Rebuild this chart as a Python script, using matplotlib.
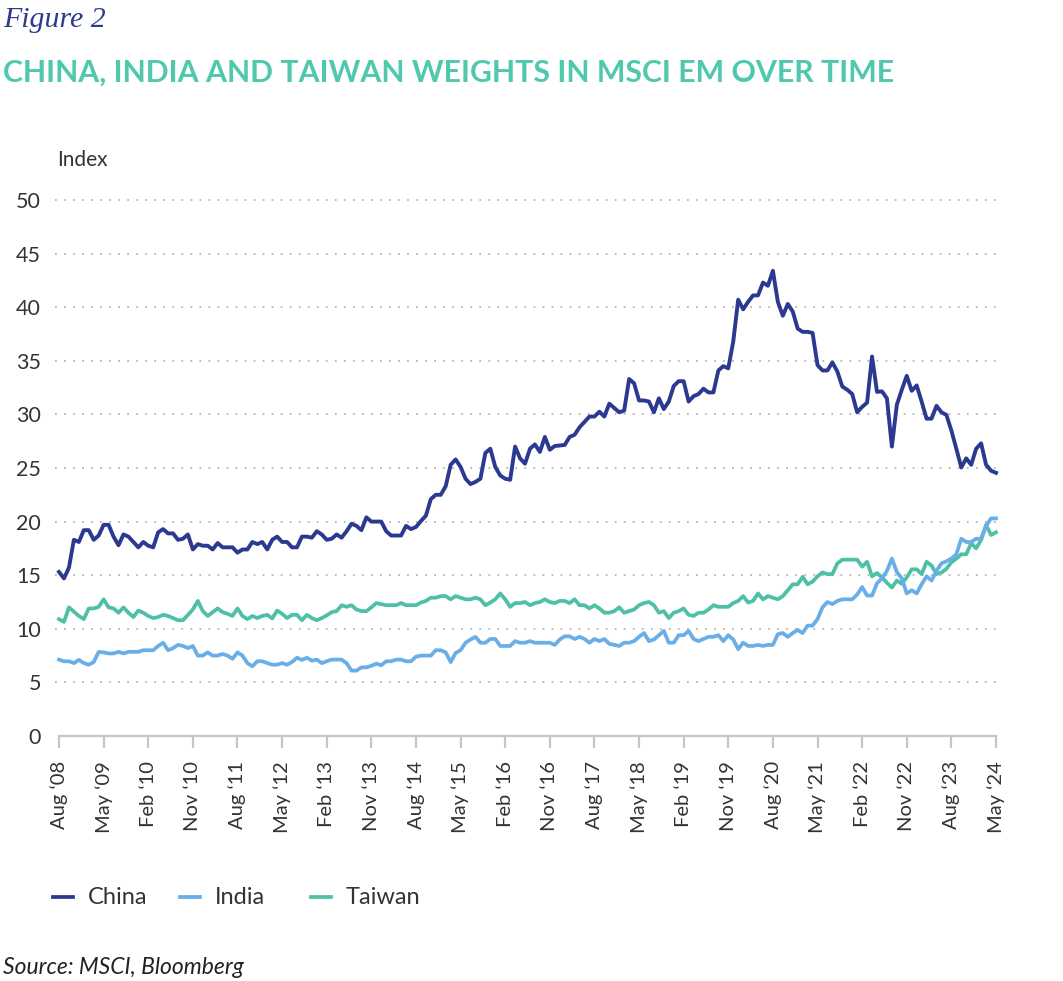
import matplotlib
matplotlib.use("Agg")
import matplotlib.pyplot as plt
from matplotlib.lines import Line2D

# ---------------- data (monthly, Aug 2008 - May 2024) ----------------
china = [15.3, 14.7, 15.7, 18.3, 18.1, 19.2, 19.2, 18.3, 18.7, 19.7,
         19.7, 18.6, 17.8, 18.8, 18.6, 18.1, 17.6, 18.1, 17.75, 17.6,
         19.0, 19.3, 18.9, 18.9, 18.3, 18.4, 18.8, 17.4, 17.9, 17.75,
         17.75, 17.4, 18.0, 17.6, 17.6, 17.6, 17.1, 17.4, 17.4, 18.1,
         17.9, 18.1, 17.4, 18.3, 18.6, 18.1, 18.1, 17.6, 17.6, 18.6,
         18.6, 18.5,
         19.1, 18.8, 18.3, 18.4, 18.8, 18.5, 19.1, 19.8, 19.6, 19.2,
         20.4, 20.0, 20.0, 20.0, 19.1, 18.7, 18.7, 18.7, 19.6, 19.3,
         19.5, 20.05, 20.55, 22.1, 22.5, 22.5, 23.3, 25.3, 25.8, 25.1,
         24.0, 23.5, 23.7, 24.0, 26.4, 26.8, 25.1, 24.3, 24.0, 23.9,
         27.0, 25.9, 25.4, 26.8, 27.2, 26.5, 27.9, 26.7, 27.05, 27.1,
         27.15, 27.9, 28.1, 28.8, 29.3, 29.8, 29.8, 30.25, 29.8, 31.0,
         30.6, 30.2, 30.35, 33.3, 32.9, 31.3, 31.3, 31.2, 30.2, 31.5,
         30.5, 31.2, 32.65, 33.1, 33.1, 31.2, 31.7, 31.9, 32.4, 32.05,
         32.05, 34.1, 34.5, 34.3, 36.8, 40.7, 39.8, 40.5, 41.1, 41.1,
         42.3, 42.0, 43.4, 40.5, 39.2, 40.3, 39.6, 38.0, 37.7, 37.7,
         37.6, 34.6, 34.1, 34.1, 34.85, 34.0, 32.6, 32.3, 31.9, 30.2,
         30.7, 31.1, 35.4, 32.1, 32.15, 31.5, 27.0, 30.9, 32.3, 33.6,
         32.2, 32.7, 31.2, 29.6, 29.6, 30.8, 30.2, 29.95, 28.5, 26.8,
         25.05, 25.9, 25.3, 26.8, 27.3, 25.3, 24.75, 24.55]

india = [7.125, 6.97, 6.97, 6.8, 7.1, 6.8, 6.65, 6.9, 7.85, 7.8,
         7.7, 7.7, 7.85, 7.7, 7.85, 7.85, 7.85, 8.0, 8.0, 8.0,
         8.4, 8.7, 8.0, 8.2, 8.5, 8.4, 8.2, 8.4, 7.5, 7.5,
         7.8, 7.5, 7.5, 7.65, 7.5, 7.2, 7.8, 7.5, 6.8, 6.5,
         6.97, 6.97, 6.8, 6.65, 6.65, 6.8, 6.65, 6.9, 7.3, 7.1,
         7.3, 7.03,
         7.125, 6.8, 6.97, 7.125, 7.125, 7.125, 6.8, 6.1, 6.1, 6.4,
         6.4, 6.55, 6.75, 6.6, 6.97, 6.97, 7.125, 7.125, 6.97, 6.97,
         7.4, 7.5, 7.5, 7.5, 8.0, 8.0, 7.8, 6.9, 7.75, 8.0,
         8.7, 9.0, 9.25, 8.7, 8.7, 9.05, 9.05, 8.4, 8.4, 8.4,
         8.85, 8.7, 8.7, 8.85, 8.7, 8.7, 8.7, 8.7, 8.5, 9.0,
         9.3, 9.3, 9.05, 9.25, 9.05, 8.7, 9.05, 8.85, 9.05, 8.6,
         8.5, 8.4, 8.7, 8.7, 8.85, 9.25, 9.6, 8.85, 9.0, 9.4,
         9.8, 8.7, 8.7, 9.4, 9.4, 9.8, 9.05, 8.85, 9.05, 9.25,
         9.25, 9.4, 8.85, 9.4, 9.0, 8.1, 8.7, 8.4, 8.4, 8.5,
         8.4, 8.5, 8.5, 9.5, 9.6, 9.25, 9.6, 9.9, 9.6, 10.3,
         10.3, 10.9, 12.0, 12.5, 12.3, 12.6, 12.75, 12.75, 12.75, 13.2,
         13.9, 13.1, 13.1, 14.25, 14.7, 15.4, 16.55, 15.3, 14.7, 13.3,
         13.6, 13.3, 14.15, 14.9, 14.5, 15.4, 16.1, 16.3, 16.55, 16.95,
         18.4, 18.1, 18.1, 18.4, 18.4, 19.6, 20.3, 20.3]

taiwan = [10.9, 10.65, 12.0, 11.6, 11.2, 10.9, 11.9, 11.9, 12.05, 12.75,
          12.0, 11.9, 11.5, 12.0, 11.5, 11.1, 11.7, 11.5, 11.2, 11.0,
          11.1, 11.3, 11.2, 11.0, 10.8, 10.8, 11.3, 11.8, 12.6, 11.65,
          11.2, 11.55, 11.9, 11.55, 11.4, 11.2, 11.9, 11.2, 10.9, 11.2,
          11.0, 11.2, 11.3, 10.97, 11.7, 11.4, 11.0, 11.3, 11.3, 10.8,
          11.3, 11.0,
          10.8, 11.0, 11.25, 11.55, 11.65, 12.2, 12.05, 12.2, 11.8, 11.65,
          11.65, 12.0, 12.4, 12.3, 12.2, 12.2, 12.2, 12.4, 12.2, 12.2,
          12.2, 12.45, 12.6, 12.9, 12.9, 13.05, 13.05, 12.75, 13.05, 12.9,
          12.75, 12.75, 12.9, 12.75, 12.2, 12.45, 12.75, 13.3, 12.75, 12.05,
          12.4, 12.4, 12.5, 12.2, 12.4, 12.5, 12.75, 12.5, 12.4, 12.6,
          12.6, 12.4, 12.75, 12.2, 12.2, 11.9, 12.2, 11.9, 11.5, 11.5,
          11.65, 12.0, 11.5, 11.65, 11.8, 12.2, 12.4, 12.5, 12.2, 11.5,
          11.65, 11.0, 11.5, 11.65, 11.9, 11.3, 11.2, 11.5, 11.5, 11.8,
          12.2, 12.05, 12.05, 12.05, 12.4, 12.6, 13.05, 12.45, 12.6, 13.3,
          12.75, 13.05, 12.9, 12.75, 13.05, 13.6, 14.15, 14.15, 14.85, 14.15,
          14.4, 14.9, 15.25, 15.1, 15.1, 16.1, 16.45, 16.45, 16.45, 16.45,
          15.8, 16.25, 14.9, 15.2, 14.8, 14.3, 13.85, 14.5, 14.2, 14.8,
          15.55, 15.55, 15.1, 16.25, 15.9, 15.1, 15.25, 15.6, 16.2, 16.55,
          16.95, 16.95, 18.0, 17.5, 18.3, 19.7, 18.75, 19.0]

tick_labels = ["Aug \u201808", "May \u201809", "Feb \u201810", "Nov \u201810",
               "Aug \u201811", "May \u201812", "Feb \u201813", "Nov \u201813",
               "Aug \u201814", "May \u201815", "Feb \u201816", "Nov \u201816",
               "Aug \u201817", "May \u201818", "Feb \u201819", "Nov \u201819",
               "Aug \u201820", "May \u201821", "Feb \u201822", "Nov \u201822",
               "Aug \u201823", "May \u201824"]
y_ticks = [0, 5, 10, 15, 20, 25, 30, 35, 40, 45, 50]
series_names = ["China", "India", "Taiwan"]

# ---------------- styling ----------------
C_CHINA = "#2B3990"
C_INDIA = "#6AAEE8"
C_TAIWAN = "#4DC0A6"
TXT = "#333333"
plt.rcParams["font.family"] = ["Lato", "DejaVu Sans"]

W, H = 1063, 981
fig = plt.figure(figsize=(W / 100, H / 100), dpi=100)
fig.patch.set_facecolor("white")

ax = fig.add_axes([55 / W, 1 - 736 / H, 945 / W, 536 / H])
months = list(range(len(china)))

# grid lines (dotted)
for v in y_ticks[1:]:
    ax.axhline(v, ls=(0, (1, 4)), lw=1.3, color="#b5b5b5", zorder=1, clip_on=False)

ax.plot(months, taiwan, color=C_TAIWAN, lw=2.7, solid_joinstyle="round", zorder=3)
ax.plot(months, india, color=C_INDIA, lw=2.7, solid_joinstyle="round", zorder=4)
ax.plot(months, china, color=C_CHINA, lw=2.8, solid_joinstyle="round", zorder=5)

ax.set_xlim(-0.81, 189.81)
ax.set_ylim(0, 50)

for s in ["left", "top", "right"]:
    ax.spines[s].set_visible(False)
ax.spines["bottom"].set_color("#c6c6c6")
ax.spines["bottom"].set_linewidth(1.6)
ax.spines["bottom"].set_bounds(0, 189)

xt = list(range(0, 190, 9))
ax.set_xticks(xt)
ax.set_xticklabels(tick_labels, rotation=90, fontsize=14.5, color=TXT)
ax.tick_params(axis="x", length=8.5, width=1.6, color="#c6c6c6", pad=9.5)
ax.set_yticks(y_ticks)
ax.set_yticklabels([str(v) for v in y_ticks], fontsize=15.5, color=TXT)
ax.tick_params(axis="y", length=0, pad=10)

fig.text(57 / W, 1 - 160 / H, "Index", fontsize=15, color=TXT, va="center", ha="left")

# titles
fig.text(3 / W, 1 - 20 / H, "Figure 2", fontsize=21.5, style="italic",
         family=["Liberation Serif", "DejaVu Serif"], color="#2E3A8E", va="center", ha="left")
fig.text(3 / W, 1 - 73 / H, "CHINA, INDIA AND TAIWAN WEIGHTS IN MSCI EM OVER TIME",
         fontsize=21.8, fontweight="bold", color="#4FC8AE", va="center", ha="left")

# legend (manual placement)
leg_y = 1 - 897 / H
for (x0, name, col) in [(53, series_names[0], C_CHINA), (180, series_names[1], C_INDIA),
                        (311, series_names[2], C_TAIWAN)]:
    fig.add_artist(Line2D([x0 / W, (x0 + 20) / W], [leg_y, leg_y], color=col, lw=2.7,
                          transform=fig.transFigure))
    fig.text((x0 + 35) / W, leg_y, name, fontsize=17, color=TXT, va="center", ha="left")

fig.text(3 / W, 1 - 968 / H, "Source: MSCI, Bloomberg", fontsize=16.5, style="italic",
         color="#222222", va="center", ha="left")

fig.savefig("out.png", dpi=100, facecolor="white")
